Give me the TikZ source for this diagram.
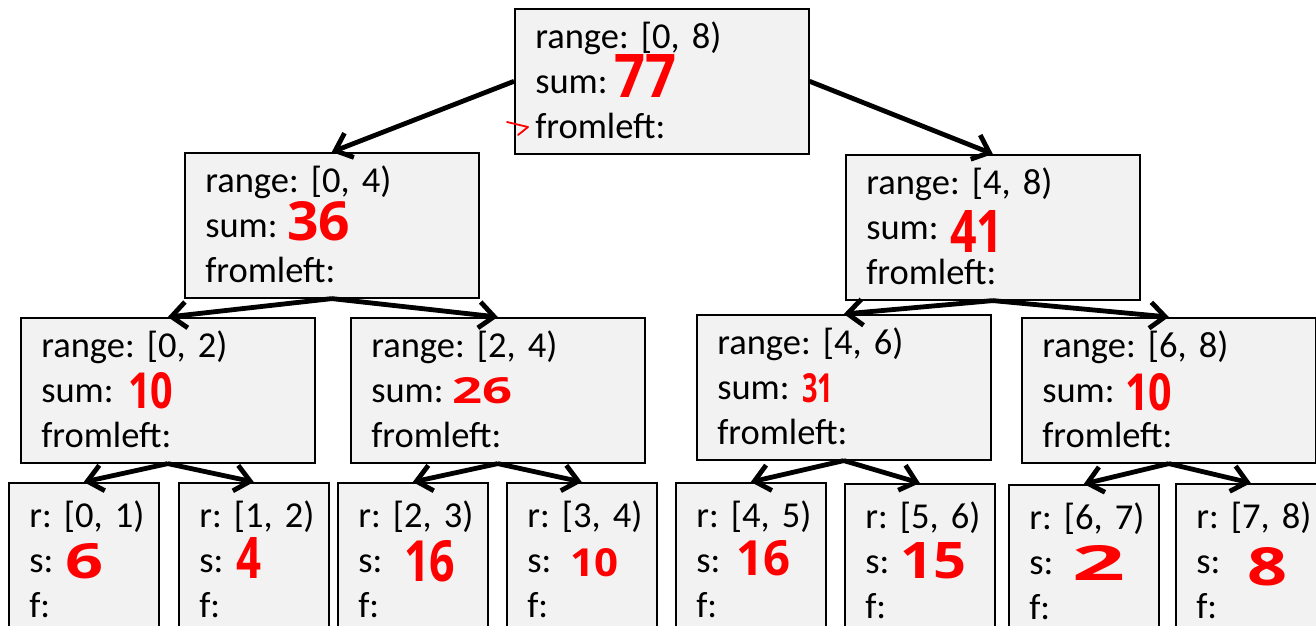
\documentclass[tikz,border=0pt]{standalone}
\usepackage{fontspec}
\setmainfont{Carlito}
\newfontfamily\handfont{Open Sans}
\usepackage{graphicx}
\usetikzlibrary{arrows.meta}
\frenchspacing
\definecolor{boxfill}{HTML}{F2F2F2}
\definecolor{hand}{HTML}{FF0000}
\newcommand{\hw}[3]{\resizebox{#1pt}{#2pt}{\handfont\bfseries #3}}
\newcommand{\firstl}{\rule{0pt}{38.5pt}}
\newcommand{\lastl}{\rule[-13.5pt]{0pt}{0pt}}
\tikzset{
  box/.style={draw=black, line width=1.6pt, fill=boxfill, rectangle, inner xsep=20.5pt, inner ysep=0pt,
    align=left, font=\fontsize{36.5}{45}\selectfont\frenchspacing, anchor=north west},
  bigbox/.style={box, text width=253pt, minimum width=294pt, minimum height=145pt},
  leafbox/.style={box, text width=109pt, minimum width=150pt, minimum height=155pt},
  link/.style={line width=4.8pt, -{Straight Barb[length=15pt,width=26pt]}},
  num/.style={text=hand, inner sep=0pt, anchor=north west},
  redtick/.style={draw=hand, line width=1.8pt, line join=round, line cap=round}
}
\begin{document}
\begin{tikzpicture}[x=1pt,y=-1pt]
\useasboundingbox (0,0) rectangle (1316,625);
\clip (0,0) rectangle (1316,625);
\fill[white] (0,0) rectangle (1316,625);

% root
\node[bigbox] (root) at (514,8) {\firstl range: [0, 8)\\sum:\\fromleft:\lastl};
% level 1
\node[bigbox] (l) at (184,152) {\firstl range: [0, 4)\\sum:\\fromleft:\lastl};
\node[bigbox] (r) at (845,154) {\firstl range: [4, 8)\\sum:\\fromleft:\lastl};
% level 2
\node[bigbox] (a) at (20,317) {\firstl range: [0, 2)\\sum:\\fromleft:\lastl};
\node[bigbox] (b) at (350,317) {\firstl range: [2, 4)\\sum:\\fromleft:\lastl};
\node[bigbox] (c) at (696,314) {\firstl range: [4, 6)\\sum:\\fromleft:\lastl};
\node[bigbox] (d) at (1021,317) {\firstl range: [6, 8)\\sum:\\fromleft:\lastl};
% leaves
\node[leafbox] (p1) at (8,482) {\firstl\mbox{r: [0, 1)}\\s:\\f:\lastl};
\node[leafbox] (p2) at (178,482) {\firstl\mbox{r: [1, 2)}\\s:\\f:\lastl};
\node[leafbox] (p3) at (337,482) {\firstl\mbox{r: [2, 3)}\\s:\\f:\lastl};
\node[leafbox] (p4) at (506,482) {\firstl\mbox{r: [3, 4)}\\s:\\f:\lastl};
\node[leafbox] (p5) at (675,482) {\firstl\mbox{r: [4, 5)}\\s:\\f:\lastl};
\node[leafbox] (p6) at (844,483) {\firstl\mbox{r: [5, 6)}\\s:\\f:\lastl};
\node[leafbox] (p7) at (1008,484) {\firstl\mbox{r: [6, 7)}\\s:\\f:\lastl};
\node[leafbox] (p8) at (1175,483) {\firstl\mbox{r: [7, 8)}\\s:\\f:\lastl};

% connectors
\draw[link] (root.west) -- (l.north);
\draw[link] (root.east) -- (r.north);
\draw[link] (l.south) -- (a.north);
\draw[link] (l.south) -- (b.north);
\draw[link] (r.south) -- (c.north);
\draw[link] (r.south) -- (d.north);
\draw[link] (a.south) -- (p1.north);
\draw[link] (a.south) -- (p2.north);
\draw[link] (b.south) -- (p3.north);
\draw[link] (b.south) -- (p4.north);
\draw[link] (c.south) -- (p5.north);
\draw[link] (c.south) -- (p6.north);
\draw[link] (d.south) -- (p7.north);
\draw[link] (d.south) -- (p8.north);

% handwritten sums
\node[num] (n0) at (614,54) {\hw{62}{43}{77}};
\node[num] (n1) at (287,201) {\hw{63}{39}{36}};
\node[num] (n2) at (950,210) {\hw{53}{42}{41}};
\node[num] (n3) at (128,372) {\hw{45}{36}{10}};
\node[num] (n4) at (452,377) {\hw{60}{26}{26}};
\node[num] (n5) at (802,373) {\hw{31}{29}{31}};
\node[num] (n6) at (1125,373) {\hw{47}{37}{10}};
\node[num] (m1) at (65,543) {\hw{38}{35}{6}};
\node[num] (m2) at (236,537) {\hw{25}{41}{4}};
\node[num] (m3) at (404,540) {\hw{51}{41}{16}};
\node[num] (m4) at (570,548) {\hw{48}{28}{10}};
\node[num] (m5) at (736,540) {\hw{54}{35}{16}};
\node[num] (m6) at (900,542) {\hw{66}{36}{15}};
\node[num] (m7) at (1072,545) {\hw{53}{35}{2}};
\node[num] (m8) at (1247,547) {\hw{40}{38}{8}};

% small red tick
\draw[redtick] (507,122) -- (528,127) -- (518,135);
\end{tikzpicture}
\end{document}
